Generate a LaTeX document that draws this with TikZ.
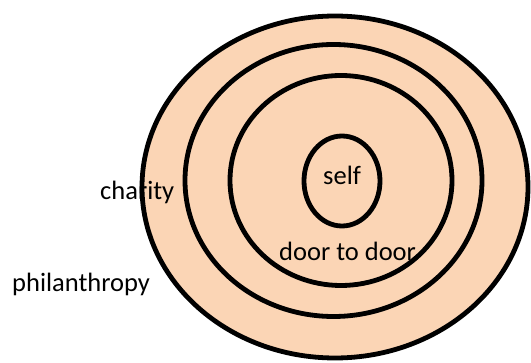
\documentclass[tikz,border=0pt]{standalone}
\usepackage{fontspec}
\setmainfont{Carlito}
\definecolor{peach}{HTML}{FBD5B5}
\begin{document}
\begin{tikzpicture}[x=1pt,y=-1pt,
  ring/.style={line width=4.8pt,draw=black},
  ringfill/.style={fill=peach},
  lbl/.style={inner sep=0pt,anchor=base west,font=\fontsize{26.5}{31}\selectfont}]
\useasboundingbox (0,0) rectangle (531,363);
% fills
\fill[ringfill] (335,187) ellipse [x radius=193,y radius=171];
% labels
\node[lbl] (charity) at (100,200) {charity};
\node[lbl] (phil) at (12,292) {philanthropy};
\node[lbl] (self) at (323,185) {self};
\node[lbl] (door) at (279,261) {door to door};
% strokes
\draw[ring] (335,187) ellipse [x radius=193,y radius=171];
\draw[ring] (333.5,180.5) ellipse [x radius=148.5,y radius=136];
\draw[ring] (341,180.5) ellipse [x radius=111,y radius=105];
\draw[ring] (342,181) ellipse [x radius=38,y radius=45];
\end{tikzpicture}
\end{document}
